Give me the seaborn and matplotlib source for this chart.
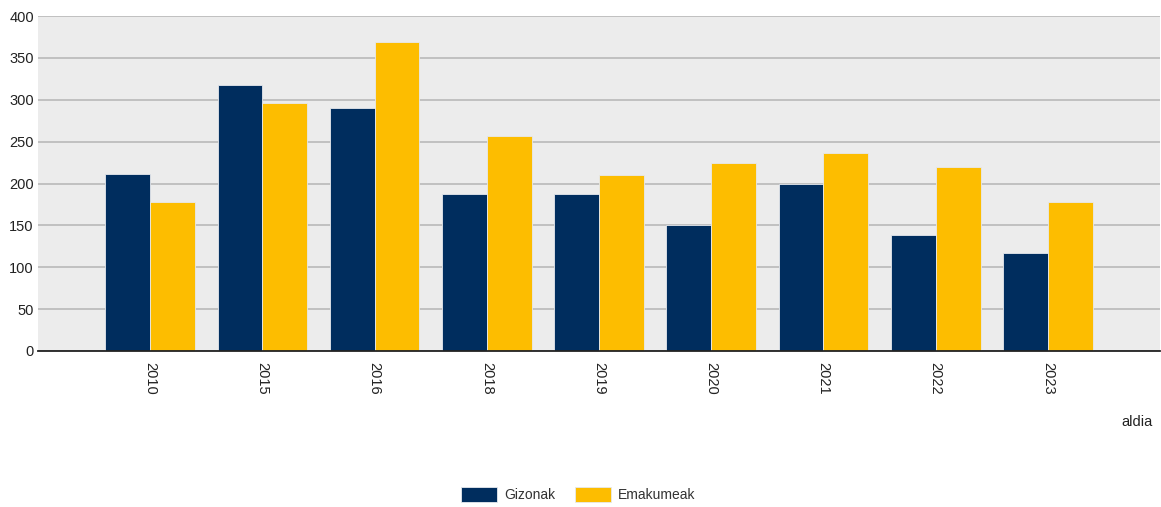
import matplotlib
matplotlib.use("Agg")
import matplotlib.pyplot as plt
import seaborn as sns
import pandas as pd

years = ["2010", "2015", "2016", "2018", "2019", "2020", "2021", "2022", "2023"]
gizonak = [211, 318, 290, 188, 188, 151, 200, 139, 117]
emakumeak = [178, 296, 369, 257, 210, 225, 236, 220, 178]
series_names = ["Gizonak", "Emakumeak"]
colors = ["#002d5e", "#fdbd00"]

df = pd.DataFrame({
    "aldia": years * 2,
    "balioa": gizonak + emakumeak,
    "sexua": [series_names[0]] * len(years) + [series_names[1]] * len(years),
})

sns.set_style("white")
plt.rcParams["font.family"] = ["Liberation Sans", "DejaVu Sans"]

fig = plt.figure(figsize=(11.61, 5.07), dpi=100)
ax = fig.add_axes([0.0327, 0.3077, 0.9665, 0.6607])
ax.set_facecolor("#ececec")

sns.barplot(data=df, x="aldia", y="balioa", hue="sexua", palette=colors,
            width=0.8, edgecolor="#e6e9ee", linewidth=0.6, saturation=1,
            ax=ax, legend=True, zorder=3)

ax.set_xlim(-1, len(years))
ax.set_ylim(0, 400)
ax.set_yticks(range(0, 401, 50))
ax.yaxis.grid(True, color="#bdbdbd", linewidth=1.3, zorder=0)
ax.set_axisbelow(True)
for s in ["top", "right", "left"]:
    ax.spines[s].set_visible(False)
ax.spines["bottom"].set_color("#222222")
ax.spines["bottom"].set_linewidth(1.3)
ax.spines["bottom"].set_zorder(5)

ax.tick_params(axis="both", length=0, labelsize=10.5, colors="#222222")
ax.tick_params(axis="y", pad=3)
ax.tick_params(axis="x", pad=8)
plt.setp(ax.get_xticklabels(), rotation=270, va="top", ha="center")
ax.set_xlabel("")
ax.set_ylabel("")

fig.text(0.993, 0.167, "aldia", ha="right", va="center", fontsize=10.5, color="#222222")

handles, labels = ax.get_legend_handles_labels()
ax.get_legend().remove()
fig.legend(handles, labels, loc="center", bbox_to_anchor=(0.498, 0.024), ncol=2,
           frameon=False, fontsize=10, handlelength=2.6, handleheight=1.2,
           columnspacing=1.4, handletextpad=0.5, labelcolor="#333333")

fig.savefig("out.png", dpi=100)
